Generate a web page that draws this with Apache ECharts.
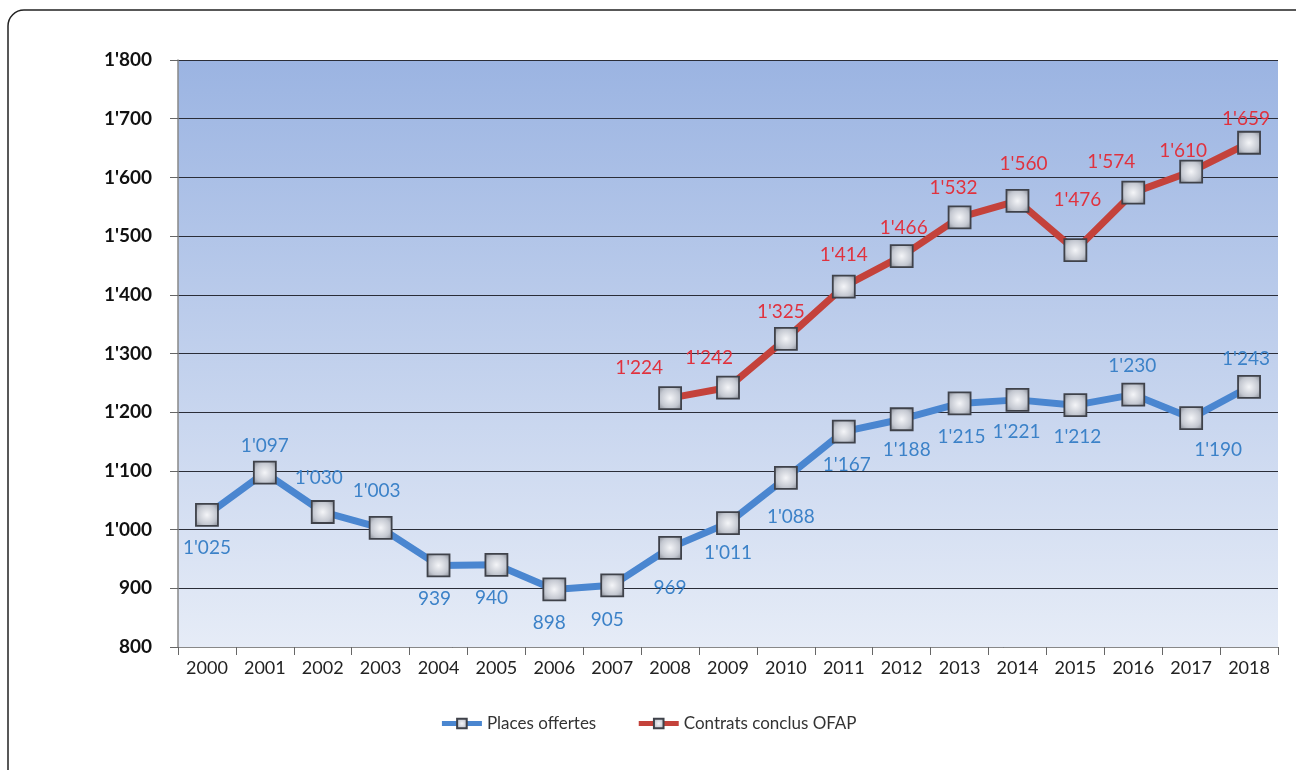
<!DOCTYPE html>
<html>
<head>
<meta charset="utf-8">
<script src="https://cdn.jsdelivr.net/npm/echarts@6/dist/echarts.min.js"></script>
<style>html,body{margin:0;padding:0;background:#fff;}#c{width:1296px;height:770px;}</style>
</head>
<body>
<div id="c"></div>
<script>
const years = ['2000','2001','2002','2003','2004','2005','2006','2007','2008','2009','2010','2011','2012','2013','2014','2015','2016','2017','2018'];
const placesOffertes = [1025,1097,1030,1003,939,940,898,905,969,1011,1088,1167,1188,1215,1221,1212,1230,1190,1243];
const contratsOFAP = [null,null,null,null,null,null,null,null,1224,1242,1325,1414,1466,1532,1560,1476,1574,1610,1659];
const yTicks = {min:800, max:1800, interval:100};

// label offsets (layout only)
const blueOffsets = [[0,33],[0,-27],[-4,-34],[-4,-37],[-4,33],[-5,33],[-5,33],[-5,35],[0,40],[0,30],[5,39],[3,33],[5,31],[2,33],[-1,32],[2,32],[-1,-29],[27,32],[-3,-28]];
const redOffsets = [null,null,null,null,null,null,null,null,[-31,-30],[-19,-30],[-5,-27],[0,-32],[2,-28],[-6,-29],[6,-37],[2,-50],[-22,-31],[-8,-21],[-3,-24]];

function fmt(v){ const s=String(Math.round(v)); return s.length>3 ? s.slice(0,s.length-3)+"'"+s.slice(-3) : s; }

const markerStyle = {
  color: new echarts.graphic.RadialGradient(0.5,0.5,0.75,[
    {offset:0,color:'#f4f5f8'},{offset:0.55,color:'#c3c7d0'},{offset:1,color:'#6d717a'}
  ]),
  borderColor:'#3f424a', borderWidth:1.8
};

function mkData(vals, offs, color){
  return vals.map((v,i)=>{
    if(v==null) return null;
    return {value:v, label:{show:true, position:'inside', offset:offs[i], color:color,
      fontFamily:'Lato', fontSize:19, formatter:(p)=>fmt(p.value)}};
  });
}

const chart = echarts.init(document.getElementById('c'));
chart.setOption({
  animation:false,
  backgroundColor:'#ffffff',
  graphic:[
    {type:'rect', z:-10, shape:{x:8,y:10,width:1310,height:790,r:16}, style:{fill:'#fff',stroke:'#222',lineWidth:1.5}},
    {type:'rect', z:-5, shape:{x:178,y:60,width:1100,height:587},
      style:{fill:new echarts.graphic.LinearGradient(0,0,0,1,[{offset:0,color:'#9bb4e2'},{offset:1,color:'#e6ecf7'}])}}
  ],
  grid:{left:178, right:18, top:60, bottom:123, show:false},
  legend:{
    bottom:33, left:'center', itemGap:40, itemWidth:40, itemHeight:12,
    textStyle:{fontFamily:'Lato', fontSize:17, color:'#333'},
    lineStyle:{width:5},
    data:['Places offertes','Contrats conclus OFAP']
  },
  xAxis:{
    type:'category', data:years, boundaryGap:true,
    axisLine:{show:true, lineStyle:{color:'#888', width:1}},
    axisTick:{show:true, alignWithLabel:false, length:8, lineStyle:{color:'#666'}},
    axisLabel:{color:'#222', fontFamily:'Lato', fontSize:18, margin:12}
  },
  yAxis:{
    type:'value', min:yTicks.min, max:yTicks.max, interval:yTicks.interval,
    axisLine:{show:true, lineStyle:{color:'#888', width:1.5}},
    axisTick:{show:true, length:8, lineStyle:{color:'#666'}},
    axisLabel:{color:'#111', fontFamily:'Lato', fontWeight:'bold', fontSize:19, margin:26, formatter:fmt},
    splitLine:{show:true, lineStyle:{color:'#2a2d38', width:1}}
  },
  series:[
    {name:'Places offertes', type:'line', data:mkData(placesOffertes, blueOffsets, '#3c82c8'),
      symbol:'rect', symbolSize:22, showAllSymbol:true,
      lineStyle:{color:'#4a86d0', width:7}, itemStyle:markerStyle, color:'#4a86d0', z:3},
    {name:'Contrats conclus OFAP', type:'line', data:mkData(contratsOFAP, redOffsets, '#e0323e'),
      symbol:'rect', symbolSize:22, showAllSymbol:true, connectNulls:false,
      lineStyle:{color:'#c4423b', width:7}, itemStyle:markerStyle, color:'#c4423b', z:3}
  ]
});
</script>
</body>
</html>
